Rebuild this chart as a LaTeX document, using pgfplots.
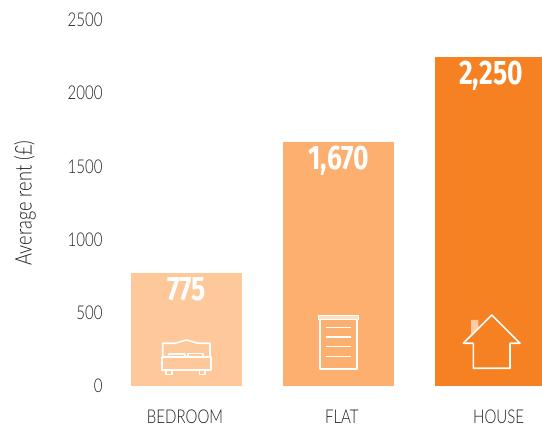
\documentclass[border=0pt]{standalone}
\usepackage{pgfplots}
\pgfplotsset{compat=1.18}
\usepackage{fontspec}
\setmainfont[FakeStretch=0.79]{Lato Light}
\newfontfamily\valuefont[FakeStretch=0.78]{Fira Sans Bold}
\definecolor{barA}{HTML}{FEC89A}
\definecolor{barB}{HTML}{FDAF6F}
\definecolor{barC}{HTML}{F68122}
\definecolor{txt}{HTML}{1E1E1E}
\begin{document}
\begin{tikzpicture}[x=1pt,y=1pt]
\useasboundingbox (0,0) rectangle (542,428);
\clip (0,0) rectangle (542,428);
\begin{axis}[
  at={(110pt,42pt)}, anchor=south west,
  scale only axis, width=432pt, height=366pt,
  xmin=-0.5025, xmax=2.3350, ymin=0, ymax=2500,
  axis line style={draw=none},
  major tick length=0pt,
  tick style={draw=none},
  ybar, bar shift=0pt, bar width=111pt,
  xtick={-0.01,1.02,2.05},
  xticklabels={BEDROOM,FLAT,HOUSE},
  ytick={0,500,1000,1500,2000,2500},
  /pgf/number format/assume math mode=true,
  yticklabel style={/pgf/number format/1000 sep={},font=\fontsize{19}{19}\selectfont,text=txt,anchor=east,xshift=-4pt},
  xticklabel style={font=\fontsize{19}{19}\selectfont,text=txt,anchor=base,yshift=-38pt},
  ylabel={\fontsize{23}{23}\selectfont Average rent (£)},
  every axis y label/.style={at={(axis description cs:-0.197,0.5)},anchor=center,rotate=90,text=txt},
  nodes near coords,
  nodes near coords style={font=\valuefont\fontsize{34}{34}\selectfont,text=white,anchor=north,yshift=-1pt},
  clip=true,
]
\addplot[fill=barA,draw=none] coordinates {(0,775)};
\addplot[fill=barB,draw=none] coordinates {(1,1670)};
\addplot[fill=barC,draw=none] coordinates {(2,2250)};
\end{axis}
\begin{axis}[
  at={(110pt,42pt)}, anchor=south west,
  scale only axis, width=432pt, height=366pt,
  xmin=110, xmax=542, ymin=20, ymax=386, y dir=reverse,
  hide axis, clip=false,
  ic/.style={draw=white,line width=1.6pt,mark=none,line join=round},
]
% bed
\addplot[ic] coordinates {(162.7,357) (162.7,343.3) (175,343.3) (181,341.5) (186.7,340) (192,341.5) (198.3,343.3) (210,343.3) (210,357)};
\addplot[ic] coordinates {(161.7,357.3) (210.7,357.3) (210.7,370) (161.7,370) (161.7,357.3)};
\addplot[ic] coordinates {(168.3,357) (168.3,354) (185,354) (185,357)};
\addplot[ic] coordinates {(187.7,357) (187.7,353.5) (202.7,353.5) (202.7,357)};
\addplot[ic] coordinates {(166,370) (166,374.5) (171.7,374.5) (171.7,370)};
\addplot[ic] coordinates {(199.3,370) (199.3,374.5) (205,374.5) (205,370)};
% flat
\addplot[draw=white,fill=white,fill opacity=0.6,line width=1pt,mark=none] coordinates {(318.3,315.7) (358.3,315.7) (358.3,320) (318.3,320)} --cycle;
\addplot[ic] coordinates {(320,320) (320,369.3) (357,369.3) (357,320)};
\addplot[ic] coordinates {(325.7,327.7) (351,327.7)};
\addplot[ic] coordinates {(325.7,337.3) (351,337.3)};
\addplot[ic] coordinates {(325.7,346.7) (351,346.7)};
\addplot[ic] coordinates {(325.7,356.7) (351,356.7)};
% house
\addplot[fill=white,fill opacity=0.6,draw=none,mark=none] coordinates {(471,320) (478.3,320) (478.3,328.3) (471,335)} --cycle;
\addplot[ic] coordinates {(473.3,343.3) (463.3,343.3) (491.7,315) (520,343.3) (510,343.3) (510,368.3) (473.3,368.3) (473.3,343.3)};
\end{axis}
\end{tikzpicture}
\end{document}
